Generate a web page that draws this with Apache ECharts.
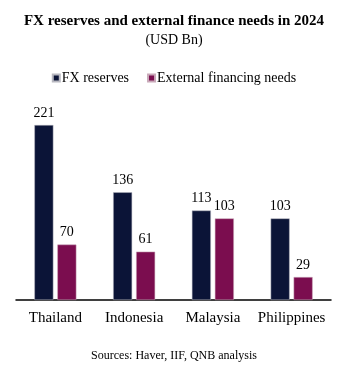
<!DOCTYPE html>
<html><head><meta charset="utf-8">
<script src="https://cdn.jsdelivr.net/npm/echarts@6/dist/echarts.min.js"></script>
<style>html,body{margin:0;padding:0;background:#fff}#c{width:348px;height:366px}</style>
</head><body><div id="c"></div>
<script>
const categories = ["Thailand", "Indonesia", "Malaysia", "Philippines"];
const fxReserves = [221, 136, 113, 103];
const externalNeeds = [70, 61, 103, 29];
const seriesNames = ["FX reserves", "External financing needs"];

const font = "'Liberation Serif', 'Times New Roman', serif";
const chart = echarts.init(document.getElementById('c'));
chart.setOption({
  animation: false,
  textStyle: { fontFamily: font },
  title: [
    { text: "FX reserves and external finance needs in 2024", left: 'center', top: 9,
      textStyle: { fontFamily: font, fontSize: 15, fontWeight: 'bold', color: '#000' } },
    { text: "(USD Bn)", left: 'center', top: 28,
      textStyle: { fontFamily: font, fontSize: 14, fontWeight: 'normal', color: '#000' } },
    { text: "Sources: Haver, IIF, QNB analysis", left: 'center', top: 345,
      textStyle: { fontFamily: font, fontSize: 12, fontWeight: 'normal', color: '#000' } }
  ],
  legend: {
    top: 66, left: 'center', itemWidth: 7, itemHeight: 7, itemGap: 18,
    icon: 'rect',
    textStyle: { fontFamily: font, fontSize: 14, color: '#000', padding: [0, 0, 0, -3] },
    data: seriesNames
  },
  grid: { left: 16, right: 17, top: 125, bottom: 66, containLabel: false },
  xAxis: {
    type: 'category', data: categories,
    axisLine: { lineStyle: { color: '#000', width: 1.5 } },
    axisTick: { show: false },
    axisLabel: { fontFamily: font, fontSize: 15, color: '#000', margin: 11, interval: 0 }
  },
  yAxis: { type: 'value', min: 0, max: 221, show: false, splitLine: { show: false } },
  series: [
    { name: seriesNames[0], type: 'bar', data: fxReserves, barWidth: 19, barGap: '21%',
      itemStyle: { color: '#0b1437', borderColor: '#b8b8c0', borderWidth: 0.5 },
      label: { show: true, position: 'top', distance: 5, fontFamily: font, fontSize: 14, color: '#000' } },
    { name: seriesNames[1], type: 'bar', data: externalNeeds, barWidth: 19,
      itemStyle: { color: '#7b0d4f', borderColor: '#c8a8b8', borderWidth: 0.5 },
      label: { show: true, position: 'top', distance: 5, fontFamily: font, fontSize: 14, color: '#000' } }
  ]
});
</script></body></html>
